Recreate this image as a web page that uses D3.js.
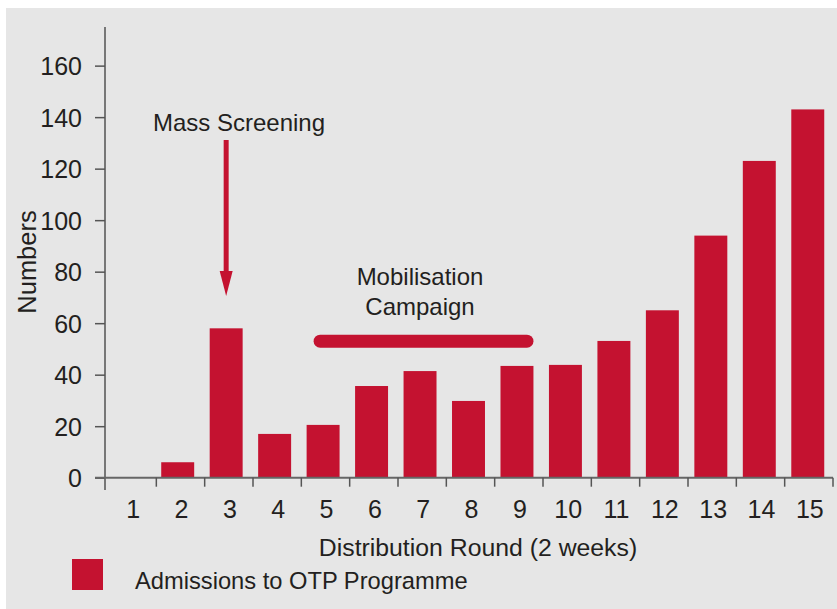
<!DOCTYPE html>
<html>
<head>
<meta charset="utf-8">
<script src="https://cdn.jsdelivr.net/npm/d3@7"></script>
<style>
  html, body { margin: 0; padding: 0; background: #ffffff; }
  svg { display: block; }
  text { font-family: "Liberation Sans", Arial, sans-serif; fill: #231f20; }
</style>
</head>
<body>
<svg id="chart" width="837" height="609"></svg>
<script>
const rounds = ["1","2","3","4","5","6","7","8","9","10","11","12","13","14","15"];
const admissions = [0, 6, 58, 17, 20.5, 35.6, 41.4, 29.8, 43.4, 43.8, 53.1, 65, 94, 123, 143];
const yTicks = [0, 20, 40, 60, 80, 100, 120, 140, 160];
const seriesName = "Admissions to OTP Programme";
const xTitle = "Distribution Round (2 weeks)";
const yTitle = "Numbers";
const massLabel = "Mass Screening";
const mobilLabel = ["Mobilisation", "Campaign"];
const massRound = "3";
const mobilStart = "5", mobilEnd = "9", mobilLevel = 53;

const red = "#c41230";
const svg = d3.select("#chart");

svg.append("rect").attr("x", 6).attr("y", 8).attr("width", 831).attr("height", 601).attr("fill", "#e6e6e6");

const y = d3.scaleLinear().domain([0, 175]).range([477.7, 27]);
const xBar = d3.scaleBand().domain(rounds).range([105, 832]).paddingInner(0.32).paddingOuter(0.16);
const xAx = d3.scaleBand().domain(rounds).range([108, 833]);

// bars
svg.append("g").selectAll("rect").data(admissions).join("rect")
  .attr("x", (d, i) => xBar(rounds[i]))
  .attr("y", d => y(d))
  .attr("width", xBar.bandwidth())
  .attr("height", d => y(0) - y(d))
  .attr("fill", red);

// y axis
const yAxis = svg.append("g").attr("transform", "translate(105,0)")
  .call(d3.axisLeft(y).tickValues(yTicks).tickSize(10).tickPadding(13).tickSizeOuter(0));
yAxis.select(".domain").attr("stroke", "#777").attr("stroke-width", 2).attr("d", `M0,${y(175)}V490`);
yAxis.selectAll(".tick line").attr("stroke", "#555").attr("stroke-width", 1.5);
yAxis.selectAll(".tick text").style("font-size", "25px").attr("fill", "#231f20")
  .style("font-family", "'Liberation Sans', Arial, sans-serif").attr("dy", "0.36em");

// x axis
const xg = svg.append("g");
xg.append("line").attr("x1", 95).attr("x2", 833).attr("y1", y(0)).attr("y2", y(0))
  .attr("stroke", "#666").attr("stroke-width", 2);
xg.selectAll("line.tk").data(rounds).join("line").attr("class", "tk")
  .attr("x1", d => xAx(d) + xAx.bandwidth()).attr("x2", d => xAx(d) + xAx.bandwidth())
  .attr("y1", y(0)).attr("y2", y(0) + 9)
  .attr("stroke", "#555").attr("stroke-width", 1.5);
xg.selectAll("text").data(rounds).join("text")
  .attr("x", d => xAx(d) + xAx.bandwidth() / 2 + 1)
  .attr("y", 518)
  .attr("text-anchor", "middle")
  .style("font-size", "25px")
  .text(d => d);

// axis titles
svg.append("text").attr("x", 478).attr("y", 556).attr("text-anchor", "middle")
  .style("font-size", "24.8px").text(xTitle);
svg.append("text").attr("transform", "translate(36,262) rotate(-90)").attr("text-anchor", "middle")
  .style("font-size", "25.5px").text(yTitle);

// legend
svg.append("rect").attr("x", 72).attr("y", 559).attr("width", 31).attr("height", 31).attr("fill", red);
svg.append("text").attr("x", 135).attr("y", 589).style("font-size", "23.7px").text(seriesName);

// Mass screening annotation
const ax = xBar(massRound) + xBar.bandwidth() / 2;
svg.append("text").attr("x", 239).attr("y", 131).attr("text-anchor", "middle")
  .style("font-size", "24px").text(massLabel);
svg.append("line").attr("x1", ax).attr("x2", ax).attr("y1", 140).attr("y2", 274)
  .attr("stroke", red).attr("stroke-width", 5);
svg.append("path").attr("d", `M${ax - 6.5},271 L${ax + 6.5},271 L${ax},296 Z`).attr("fill", red);

// Mobilisation campaign annotation
const mx1 = xBar(mobilStart) + 13.5, mx2 = xBar(mobilEnd) + xBar.bandwidth() - 6.5;
svg.append("line").attr("x1", mx1).attr("x2", mx2).attr("y1", y(mobilLevel)).attr("y2", y(mobilLevel))
  .attr("stroke", red).attr("stroke-width", 13).attr("stroke-linecap", "round");
svg.append("text").attr("x", 420).attr("y", 285).attr("text-anchor", "middle")
  .style("font-size", "24px").text(mobilLabel[0]);
svg.append("text").attr("x", 420).attr("y", 315).attr("text-anchor", "middle")
  .style("font-size", "24px").text(mobilLabel[1]);
</script>
</body>
</html>
